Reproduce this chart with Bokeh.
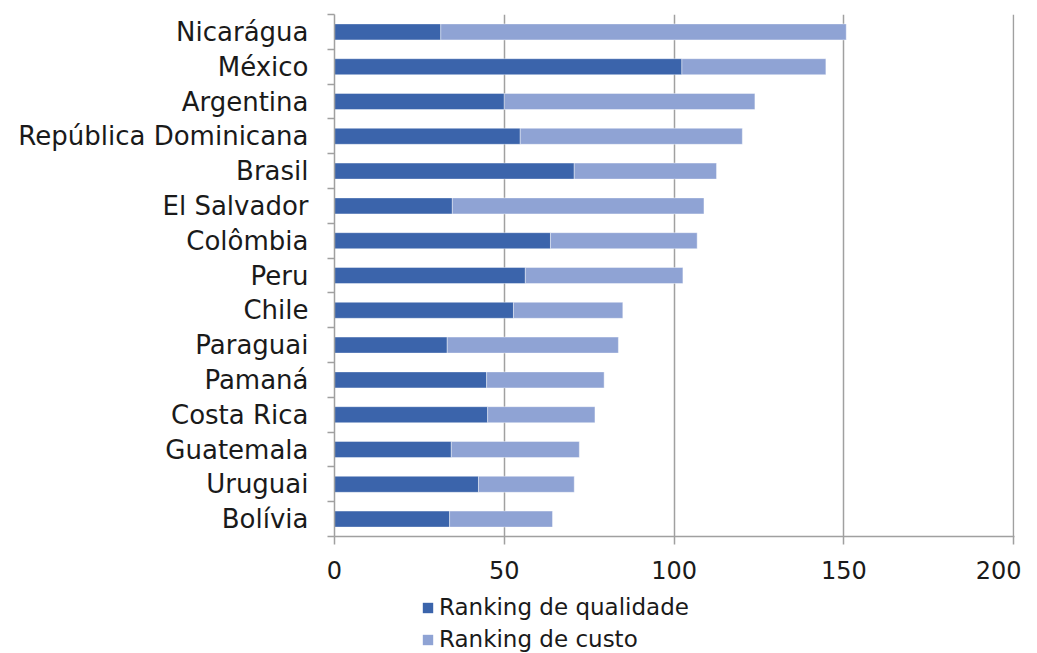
from bokeh.plotting import figure
from bokeh.models import ColumnDataSource, FixedTicker, Range1d, Legend
from bokeh.layouts import column
from bokeh.embed import file_html
from bokeh.resources import INLINE

countries = ["Nicarágua", "México", "Argentina", "República Dominicana", "Brasil",
             "El Salvador", "Colômbia", "Peru", "Chile", "Paraguai", "Pamaná",
             "Costa Rica", "Guatemala", "Uruguai", "Bolívia"]
qualidade = [31.3, 102.3, 50.0, 54.7, 70.6, 34.7, 63.6, 56.2, 52.7, 33.2, 44.8, 45.1, 34.4, 42.4, 33.9]
custo = [119.4, 42.4, 73.8, 65.4, 41.9, 74.1, 43.2, 46.4, 32.2, 50.4, 34.6, 31.6, 37.7, 28.2, 30.3]
x_ticks = [0, 50, 100, 150, 200]
series_names = ["Ranking de qualidade", "Ranking de custo"]

DARK = "#3B64AB"
LIGHT = "#8FA3D4"
GRAY = "#A0A0A0"
TEXT = "#1a1a1a"
FONT = "DejaVu Sans"

n = len(countries)
ys = [n - 1 - i for i in range(n)]
source = ColumnDataSource(dict(y=ys, q=qualidade, c=custo, name=countries))

p = figure(width=1021, height=590, output_backend="svg", toolbar_location=None,
           x_range=Range1d(0, 200.25), y_range=Range1d(-0.5, n - 0.5),
           min_border_left=334, min_border_right=7, min_border_top=14,
           min_border_bottom=54)
p.outline_line_color = None

renderers = p.hbar_stack(["q", "c"], y="y", height=0.46, color=[DARK, LIGHT],
                         line_color="white", line_alpha=0.4, line_width=1,
                         source=source)

# x axis
p.xaxis.ticker = FixedTicker(ticks=x_ticks)
p.xaxis.axis_line_color = GRAY
p.xaxis.axis_line_width = 1.5
p.xaxis.major_tick_line_color = GRAY
p.xaxis.major_tick_line_width = 1.5
p.xaxis.major_tick_out = 8
p.xaxis.major_tick_in = 0
p.xaxis.minor_tick_line_color = None
p.xaxis.major_label_text_font = FONT
p.xaxis.major_label_text_font_size = "24px"
p.xaxis.major_label_text_color = TEXT
p.xaxis.major_label_standoff = 16

# y axis
p.yaxis.ticker = FixedTicker(ticks=ys, minor_ticks=[k - 0.5 for k in range(n + 1)])
p.yaxis.major_label_overrides = {y: c for y, c in zip(ys, countries)}
p.yaxis.axis_line_color = GRAY
p.yaxis.axis_line_width = 1.5
p.yaxis.major_tick_line_color = None
p.yaxis.major_tick_out = 0
p.yaxis.major_tick_in = 0
p.yaxis.minor_tick_line_color = GRAY
p.yaxis.minor_tick_line_width = 1.5
p.yaxis.minor_tick_out = 7
p.yaxis.minor_tick_in = 0
p.yaxis.major_label_text_font = FONT
p.yaxis.major_label_text_font_size = "26px"
p.yaxis.major_label_text_color = TEXT
p.yaxis.major_label_standoff = 19

# grid
p.ygrid.grid_line_color = None
p.xgrid.ticker = FixedTicker(ticks=x_ticks[1:])
p.xgrid.grid_line_color = GRAY
p.xgrid.grid_line_width = 1.5

# legend strip below the chart (same series, kept just outside its view)
p2 = figure(width=1021, height=63, output_backend="svg", toolbar_location=None,
            x_range=Range1d(0, 200.25), y_range=Range1d(n + 5, n + 20),
            x_axis_location=None, y_axis_location=None,
            min_border_left=0, min_border_right=0, min_border_top=0,
            min_border_bottom=0)
p2.outline_line_color = None
p2.grid.grid_line_color = None
leg_r = p2.hbar_stack(["q", "c"], y="y", height=0.46, color=[DARK, LIGHT],
                      line_color=None, source=source)

legend = Legend(items=[(series_names[0], [leg_r[0]]), (series_names[1], [leg_r[1]])],
                location=(87, 1), orientation="vertical",
                glyph_width=13, glyph_height=13, label_height=26, spacing=6,
                label_standoff=5, padding=0, margin=0,
                border_line_color=None, background_fill_alpha=0,
                label_text_font=FONT, label_text_font_size="23px",
                label_text_color=TEXT)
p2.add_layout(legend, "center")

layout = column(p, p2, spacing=0)
open("out.html", "w").write(file_html(layout, INLINE))
